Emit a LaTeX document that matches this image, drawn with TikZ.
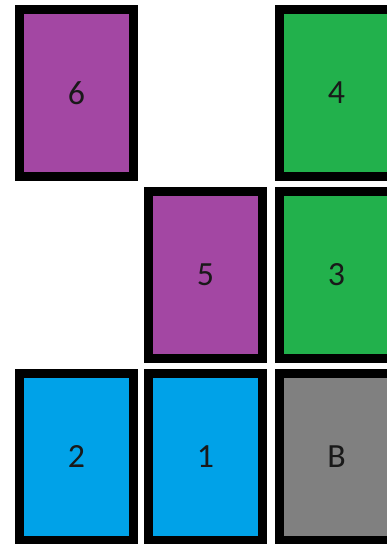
\documentclass[tikz,border=0pt]{standalone}
\usepackage{fontspec}
\setmainfont{Carlito}
\usetikzlibrary{positioning}
\definecolor{purp}{HTML}{A347A3}
\definecolor{grn}{HTML}{22B14C}
\definecolor{blu}{HTML}{00A2E8}
\definecolor{gry}{HTML}{808080}

\begin{document}
\begin{tikzpicture}[x=1bp, y=1bp,
  blk/.style={draw=black, line width=9bp, minimum width=114bp, minimum height=167bp,
    inner sep=0pt, text=black!90, font=\fontsize{34}{40}\selectfont}]
\useasboundingbox[fill=white] (0,0) rectangle (386,-544);
\node[blk, fill=blu] (b2) at (76.5,-457) {2};
\node[blk, fill=blu, right=6bp of b2] (b1) {1};
\node[blk, fill=gry, right=8bp of b1] (bB) {B};
\node[blk, fill=purp, above=6bp of b1] (b5) {5};
\node[blk, fill=grn, above=6bp of bB] (b3) {3};
\node[blk, fill=grn, above=6bp of b3] (b4) {4};
\node[blk, fill=purp, left=137bp of b4] (b6) {6};
\end{tikzpicture}
\end{document}
